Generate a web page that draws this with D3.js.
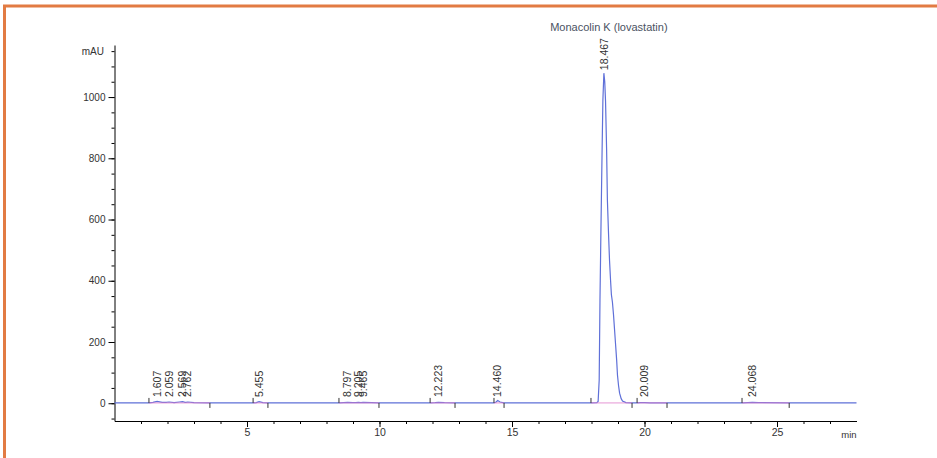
<!DOCTYPE html>
<html lang="en">
<head>
    <meta charset="UTF-8">
    <title>Chromatogram</title>
    <script src="https://d3js.org/d3.v7.min.js"></script>
    <style>
        body { margin: 0; background: #fff; }
        text { font-family: "Liberation Sans", Arial, sans-serif; fill: #333; }
    </style>
</head>
<body>
    <script>
        // Create SVG area dimensions
        const w = 937;
        const h = 458;

        // Trace (time in min, signal in mAU)
        const traceTime = [0, 1.30, 1.45, 1.607, 1.80, 1.95, 2.059, 2.25, 2.45, 2.569, 2.66, 2.70, 2.762, 3.00, 3.60,
            5.23, 5.35, 5.455, 5.60, 5.79, 8.47, 8.65, 8.797, 9.00, 9.10, 9.205, 9.30, 9.380, 9.70, 9.98,
            11.91, 12.10, 12.223, 12.45, 12.85, 14.32, 14.40, 14.46, 14.55, 14.70, 17.98, 18.20, 18.25, 18.29,
            18.32, 18.36, 18.40, 18.43, 18.467, 18.50, 18.53, 18.57, 18.60, 18.64, 18.68, 18.72, 18.75, 18.79,
            18.83, 18.87, 18.91, 18.95, 18.98, 19.02, 19.06, 19.12, 19.17, 19.30, 19.53, 19.72, 19.85, 20.009,
            20.20, 20.85, 23.68, 23.90, 24.068, 24.30, 25.46, 28.0];
        const traceMAU = [1, 1, 3, 6, 3, 3, 4, 2, 4, 5, 3, 3, 4, 2, 1,
            1, 2, 5, 2, 1, 1, 2, 3, 2, 2, 3, 2, 3, 2, 1,
            1, 2, 3, 2, 1, 1, 4, 9, 4, 1, 1, 2, 6, 75,
            337, 590, 827, 990, 1078, 1050, 985, 830, 663, 560, 467, 400, 355, 330,
            290, 240, 190, 140, 92, 58, 33, 15, 7, 2, 1, 1, 2, 2,
            1, 1, 1, 2, 3, 2, 1, 1];

        // Peak labels (retention times) and apex heights
        const peakTimes = [1.607, 2.059, 2.569, 2.762, 5.455, 8.797, 9.205, 9.380, 12.223, 14.460, 18.467, 20.009, 24.068];
        const peakLabels = ["1.607", "2.059", "2.569", "2.762", "5.455", "8.797", "9.205", "9.465", "12.223", "14.460", "18.467", "20.009", "24.068"];
        const peakHeights = [6, 4, 5, 4, 5, 3, 3, 3, 3, 9, 1078, 2, 3];

        // Integration start / end events
        const intStart = [1.30, 5.23, 8.47, 11.91, 14.32, 17.98, 19.72, 23.68];
        const intEnd = [3.60, 5.79, 9.98, 12.85, 14.70, 19.53, 20.85, 25.46];

        const xMajor = [5, 10, 15, 20, 25];
        const xMinor = d3.range(1, 28);
        const yMajor = [0, 200, 400, 600, 800, 1000];
        const yMinor = d3.range(-50, 1151, 50);

        const svg = d3
            .select("body")
            .append("svg")
            .attr("width", w)
            .attr("height", h);

        // Orange frame (top and left)
        svg.append("path")
            .attr("d", `M4.5,${h} V6 H${w}`)
            .attr("fill", "none")
            .attr("stroke", "#e27b43")
            .attr("stroke-width", 3);

        const xScale = d3.scaleLinear().domain([0, 28]).range([114.5, 856.5]);
        const yScale = d3.scaleLinear().domain([-58, 1170]).range([421, 45]);

        // y-axis
        const yAxisMinor = d3.axisLeft(yScale).tickValues(yMinor).tickSize(3).tickFormat("");
        svg.append("g")
            .attr("transform", "translate(114.5,0)")
            .call(yAxisMinor)
            .call(g => g.select(".domain").remove());
        const yAxis = d3.axisLeft(yScale).tickValues(yMajor).tickSize(6).tickSizeOuter(0).tickPadding(3).tickFormat(d3.format("d"));
        svg.append("g")
            .attr("id", "y-axis")
            .attr("transform", "translate(114.5,0)")
            .call(yAxis)
            .call(g => g.selectAll("text").style("font-size", "10px"));
        svg.append("text")
            .attr("x", 104)
            .attr("y", yScale(1150))
            .attr("dy", "0.35em")
            .style("text-anchor", "end")
            .style("font-size", "10px")
            .text("mAU");

        // x-axis
        const xAxisMinor = d3.axisBottom(xScale).tickValues(xMinor).tickSize(3).tickFormat("");
        svg.append("g")
            .attr("transform", "translate(0,421)")
            .call(xAxisMinor)
            .call(g => g.select(".domain").remove());
        const xAxis = d3.axisBottom(xScale).tickValues(xMajor).tickSize(6).tickSizeOuter(0).tickPadding(2);
        svg.append("g")
            .attr("id", "x-axis")
            .attr("transform", "translate(0,421)")
            .call(xAxis)
            .call(g => g.selectAll("text").style("font-size", "10.5px"));
        svg.append("text")
            .attr("x", 849)
            .attr("y", 438)
            .style("text-anchor", "middle")
            .style("font-size", "9.5px")
            .text("min");

        // Trace
        const line = d3.line()
            .x((d, i) => xScale(traceTime[i]))
            .y(d => yScale(d));
        svg.append("path")
            .datum(traceMAU)
            .attr("d", line)
            .attr("fill", "none")
            .attr("stroke", "#5f70d8")
            .attr("stroke-width", 1.2);

        // Integration baselines
        svg.selectAll("line.base")
            .data(intStart)
            .enter()
            .append("line")
            .attr("class", "base")
            .attr("x1", d => xScale(d))
            .attr("x2", (d, i) => xScale(intEnd[i]))
            .attr("y1", yScale(1))
            .attr("y2", yScale(1))
            .attr("stroke", "#e07ccc")
            .attr("stroke-width", 1)
            .attr("opacity", 0.8);

        // Integration markers
        svg.selectAll("line.start")
            .data(intStart)
            .enter()
            .append("line")
            .attr("x1", d => xScale(d))
            .attr("x2", d => xScale(d))
            .attr("y1", yScale(1) - 5)
            .attr("y2", yScale(1))
            .attr("stroke", "#333");
        svg.selectAll("line.end")
            .data(intEnd)
            .enter()
            .append("line")
            .attr("x1", d => xScale(d))
            .attr("x2", d => xScale(d))
            .attr("y1", yScale(1))
            .attr("y2", yScale(1) + 5)
            .attr("stroke", "#333");

        // Peak labels
        svg.selectAll("text.peak")
            .data(peakTimes)
            .enter()
            .append("text")
            .attr("class", "peak")
            .attr("transform", (d, i) => `translate(${xScale(d)},${Math.min(yScale(peakHeights[i]) - 3, 397)})rotate(-90)`)
            .attr("dy", "0.35em")
            .style("font-size", "10.5px")
            .text((d, i) => peakLabels[i]);

        // Compound name
        svg.append("text")
            .attr("x", xScale(18.467) + 5)
            .attr("y", 31)
            .style("text-anchor", "middle")
            .style("font-size", "11px")
            .style("fill", "#4a5262")
            .text("Monacolin K (lovastatin)");
    </script>
</body>
</html>
